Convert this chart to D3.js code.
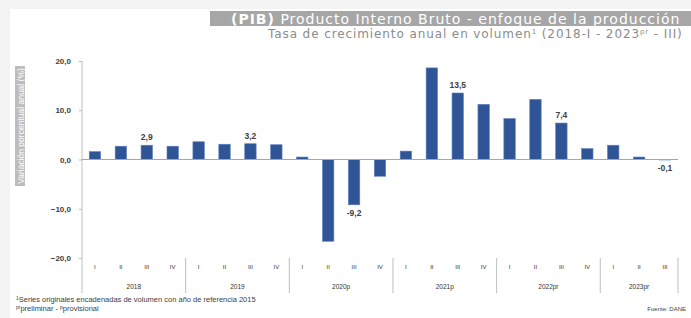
<!DOCTYPE html>
<html>
<head>
<meta charset="utf-8">
<script src="https://cdn.jsdelivr.net/npm/d3@7"></script>
<style>
  body { margin: 0; background: #f3f3f3; }
  svg { display: block; font-family: "Liberation Sans", Arial, sans-serif; }
</style>
</head>
<body>
<div id="chart"></div>
<script>
// data
var years = ["2018", "2019", "2020p", "2021p", "2022pr", "2023pr"];
var periods = ["2018-I","2018-II","2018-III","2018-IV","2019-I","2019-II","2019-III","2019-IV",
  "2020-I","2020-II","2020-III","2020-IV","2021-I","2021-II","2021-III","2021-IV",
  "2022-I","2022-II","2022-III","2022-IV","2023-I","2023-II","2023-III"];
var growth = [1.6, 2.7, 2.9, 2.7, 3.6, 3.1, 3.2, 3.0,
  0.5, -16.6, -9.2, -3.4, 1.7, 18.6, 13.5, 11.2,
  8.3, 12.2, 7.4, 2.2, 2.9, 0.5, -0.1];
var labelled = {"2018-III": "2,9", "2019-III": "3,2", "2020-III": "-9,2",
  "2021-III": "13,5", "2022-III": "7,4", "2023-III": "-0,1"};
var yTicks = [20, 10, 0, -10, -20];

var W = 691, H = 318;
var plot = { left: 82, right: 678, top: 61, bottom: 258 };

var data = periods.map(function(p, i) {
    return { period: p, q: p.split("-")[1], value: growth[i], label: labelled[p] };
});

var svg = d3.select("#chart").append("svg")
    .attr("width", W)
    .attr("height", H);

// white card
svg.append("rect")
    .attr("x", 10).attr("y", 9)
    .attr("width", W - 10).attr("height", H - 9)
    .attr("fill", "#fff");

// title bar
svg.append("rect")
    .attr("x", 210).attr("y", 11)
    .attr("width", W - 210).attr("height", 15)
    .attr("fill", "#a6a6a6");
var t = svg.append("text")
    .attr("x", 231).attr("y", 23.5)
    .attr("font-family", "DejaVu Sans, sans-serif")
    .attr("font-size", "14px")
    .attr("letter-spacing", "1px")
    .attr("fill", "#fff");
t.append("tspan").attr("font-weight", "bold").text("(PIB)");
t.append("tspan").text(" Producto Interno Bruto  - enfoque de la producción");

var st = svg.append("text")
    .attr("x", 268).attr("y", 38)
    .attr("font-family", "DejaVu Sans, sans-serif")
    .attr("font-size", "12px")
    .attr("letter-spacing", "0.9px")
    .attr("fill", "#8c8c8c");
st.append("tspan").text("Tasa de crecimiento anual en volumen");
st.append("tspan").attr("font-size", "7px").attr("dy", -4).text("1");
st.append("tspan").attr("dy", 4).text(" (2018-I - 2023");
st.append("tspan").attr("font-size", "7px").attr("dy", -4).text("pr");
st.append("tspan").attr("dy", 4).text(" - III)");

// scales
var x = d3.scaleBand()
    .domain(periods)
    .range([plot.left, plot.right])
    .paddingInner(0.56)
    .paddingOuter(0.28);
var y = d3.scaleLinear()
    .domain([-20, 20])
    .range([plot.bottom, plot.top]);

// y axis
var yAxis = svg.append("g")
    .attr("transform", "translate(" + plot.left + ",0)")
    .call(d3.axisLeft(y).tickValues(yTicks).tickSize(3).tickPadding(8)
        .tickFormat(function(d) { return d3.format(".1f")(d).replace(".", ","); }));
yAxis.select(".domain").remove();
yAxis.selectAll("line").attr("stroke", "#bfbfbf");
yAxis.selectAll("text")
    .attr("font-size", "8px")
    .attr("font-weight", "bold")
    .attr("fill", "#404040")
    .attr("font-family", "Liberation Sans, Arial, sans-serif");

svg.append("line")
    .attr("x1", plot.left).attr("x2", plot.left)
    .attr("y1", plot.top).attr("y2", 293)
    .attr("stroke", "#bfbfbf");

// y label box
svg.append("rect")
    .attr("x", 15).attr("y", 66)
    .attr("width", 10).attr("height", 120)
    .attr("fill", "#bdbdbd");
svg.append("text")
    .attr("transform", "translate(23.5," + 126 + ") rotate(-90)")
    .attr("text-anchor", "middle")
    .attr("font-size", "8.5px")
    .attr("fill", "#fff")
    .text("Variación porcentual anual (%)");

// bars
svg.selectAll(".bar")
    .data(data)
    .enter().append("rect")
    .attr("class", "bar")
    .attr("x", function(d) { return x(d.period); })
    .attr("y", function(d) { return y(Math.max(0, d.value)); })
    .attr("width", x.bandwidth())
    .attr("height", function(d) { return Math.abs(y(d.value) - y(0)); })
    .attr("fill", "#2f5597")
    .attr("stroke", "#5b7fbf")
    .attr("stroke-width", 0.6);

// zero line
svg.append("line")
    .attr("x1", plot.left).attr("x2", plot.right)
    .attr("y1", y(0)).attr("y2", y(0))
    .attr("stroke", "#a6a6a6");

// value labels
svg.selectAll(".vlab")
    .data(data.filter(function(d) { return d.label; }))
    .enter().append("text")
    .attr("class", "vlab")
    .attr("x", function(d) { return x(d.period) + x.bandwidth() / 2; })
    .attr("y", function(d) { return d.value >= 0 ? y(d.value) - 5 : y(d.value) + 11; })
    .attr("text-anchor", "middle")
    .attr("font-size", "8.5px")
    .attr("font-weight", "bold")
    .attr("fill", "#404040")
    .text(function(d) { return d.label; });

// quarter labels
svg.selectAll(".qlab")
    .data(data)
    .enter().append("text")
    .attr("class", "qlab")
    .attr("x", function(d) { return x(d.period) + x.bandwidth() / 2; })
    .attr("y", 269)
    .attr("text-anchor", "middle")
    .attr("font-size", "6px")
    .attr("fill", "#333")
    .text(function(d) { return d.q; });

// year groups
var halfGap = (x.step() - x.bandwidth()) / 2;
years.forEach(function(yr, gi) {
    var first = periods[gi * 4];
    var last = periods[Math.min(gi * 4 + 3, periods.length - 1)];
    var x0 = x(first) - halfGap;
    var x1 = x(last) + x.bandwidth() + halfGap;
    svg.append("text")
        .attr("x", (x0 + x1) / 2)
        .attr("y", 289)
        .attr("text-anchor", "middle")
        .attr("font-size", "6.5px")
        .attr("fill", "#333")
        .text(yr);
    svg.append("line")
        .attr("x1", x1).attr("x2", x1)
        .attr("y1", plot.bottom).attr("y2", 293)
        .attr("stroke", "#bfbfbf");
});

// footnotes
var f1 = svg.append("text")
    .attr("x", 16).attr("y", 302)
    .attr("font-size", "7.5px")
    .attr("fill", "#404040");
f1.append("tspan").attr("font-size", "5px").attr("dy", -2).text("1");
f1.append("tspan").attr("dy", 2).text("Series originales encadenadas de volumen con año de referencia 2015");
var f2 = svg.append("text")
    .attr("x", 16).attr("y", 311)
    .attr("font-size", "7.5px")
    .attr("fill", "#404040");
f2.append("tspan").attr("font-size", "5px").attr("dy", -2).text("pr");
f2.append("tspan").attr("dy", 2).text("preliminar - ");
f2.append("tspan").attr("font-size", "5px").attr("dy", -2).text("p");
f2.append("tspan").attr("dy", 2).text("provisional");
svg.append("text")
    .attr("x", 686).attr("y", 311)
    .attr("text-anchor", "end")
    .attr("font-size", "6px")
    .attr("fill", "#404040")
    .text("Fuente: DANE");
</script>
</body>
</html>
